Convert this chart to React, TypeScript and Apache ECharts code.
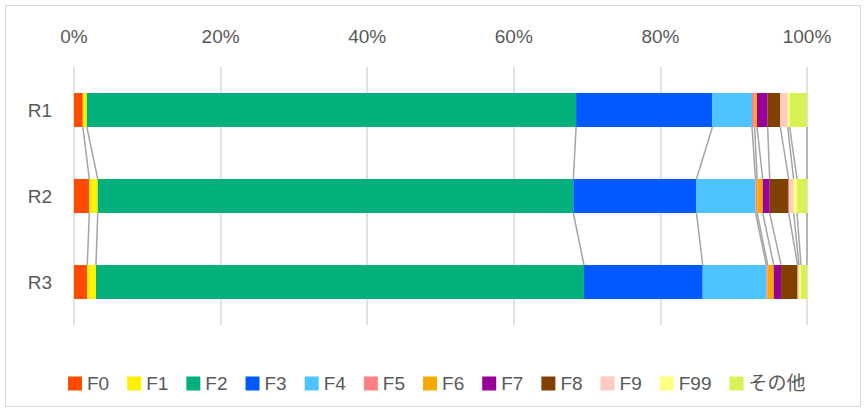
import React, { useEffect, useRef } from "react";
import * as echarts from "echarts";

const categories = ["R1", "R2", "R3"];
const seriesNames = ["F0", "F1", "F2", "F3", "F4", "F5", "F6", "F7", "F8", "F9", "F99", "その他"];
const colors = ["#FF4B00", "#FFF100", "#03AF7A", "#005AFF", "#4DC4FF", "#FF8082", "#F6AA00", "#990099", "#804000", "#FFCABF", "#FFFF80", "#D8F255"];
// percent values per series, for R1, R2, R3
const F0 = [1.2, 2.09, 1.81];
const F1 = [0.55, 1.15, 1.19];
const F2 = [66.75, 64.88, 66.57];
const F3 = [18.6, 16.8, 16.2];
const F4 = [5.4, 8.05, 8.69];
const F5 = [0.35, 0.23, 0.18];
const F6 = [0.33, 0.76, 0.82];
const F7 = [1.45, 0.95, 1.0];
const F8 = [1.73, 2.59, 2.26];
const F9 = [1.0, 0.68, 0.19];
const F99 = [0.27, 0.46, 0.27];
const OTHER = [2.37, 1.36, 0.82];
const xTicks = [0, 20, 40, 60, 80, 100];

const seriesValues = [F0, F1, F2, F3, F4, F5, F6, F7, F8, F9, F99, OTHER];

export default function App() {
  const ref = useRef<HTMLDivElement>(null);
  useEffect(() => {
    if (!ref.current) return;
    const chart = echarts.init(ref.current, undefined, { renderer: "svg" });
    const cum: number[][] = categories.map((_, ci) => {
      let s = 0;
      return seriesValues.map((arr) => {
        s += arr[ci];
        return s;
      });
    });
    const lineData: number[][] = [];
    for (let ci = 0; ci < categories.length - 1; ci++) {
      for (let k = 0; k < seriesValues.length; k++) {
        lineData.push([cum[ci][k], ci, cum[ci + 1][k], ci + 1]);
      }
    }
    const font = "'Liberation Sans', 'Noto Sans CJK JP', sans-serif";
    const halfBar = 17;
    const option: any = {
      animation: false,
      textStyle: { fontFamily: font },
      graphic: [
        {
          type: "rect",
          shape: { x: 5.5, y: 5.5, width: 855, height: 401 },
          style: { fill: "none", stroke: "#d9d9d9", lineWidth: 1 },
          silent: true,
          z: -10,
        },
      ],
      grid: { left: 74, right: 59, top: 67, bottom: 87, containLabel: false },
      xAxis: {
        type: "value",
        position: "top",
        min: xTicks[0],
        max: xTicks[xTicks.length - 1],
        interval: 20,
        axisLabel: { formatter: "{value}%", color: "#595959", fontSize: 19, margin: 21, fontFamily: font },
        axisLine: { show: false },
        axisTick: { show: false },
        splitLine: { show: true, lineStyle: { color: "#d9d9d9", width: 1.5 } },
      },
      yAxis: {
        type: "category",
        data: categories,
        inverse: true,
        axisLabel: { color: "#595959", fontSize: 19, margin: 22, fontFamily: font },
        axisLine: { show: false },
        axisTick: { show: false },
      },
      legend: {
        data: seriesNames,
        top: 369,
        left: 63,
        itemWidth: 14,
        itemHeight: 14,
        itemGap: 18,
        icon: "rect",
        textStyle: { color: "#595959", fontSize: 19, fontFamily: font },
      },
      series: [
        ...seriesNames.map((name, i) => ({
          name,
          type: "bar",
          stack: "total",
          barWidth: 34,
          itemStyle: { color: colors[i] },
          data: seriesValues[i],
        })),
        {
          type: "custom",
          name: "serieslines",
          encode: { x: [0, 2], y: [1, 3] },
          data: lineData,
          silent: true,
          z: 1,
          renderItem: (params: any, api: any) => {
            const p0 = api.coord([api.value(0), api.value(1)]);
            const p1 = api.coord([api.value(2), api.value(3)]);
            return {
              type: "line",
              shape: { x1: p0[0], y1: p0[1] + halfBar, x2: p1[0], y2: p1[1] - halfBar },
              style: { stroke: "#a5a5a5", lineWidth: 1.5 },
            };
          },
        },
      ],
    };
    chart.setOption(option);
    return () => chart.dispose();
  }, []);
  return (
    <div
      ref={ref}
      style={{ position: "fixed", left: 0, top: 0, width: 866, height: 412, background: "#fff" }}
    />
  );
}
